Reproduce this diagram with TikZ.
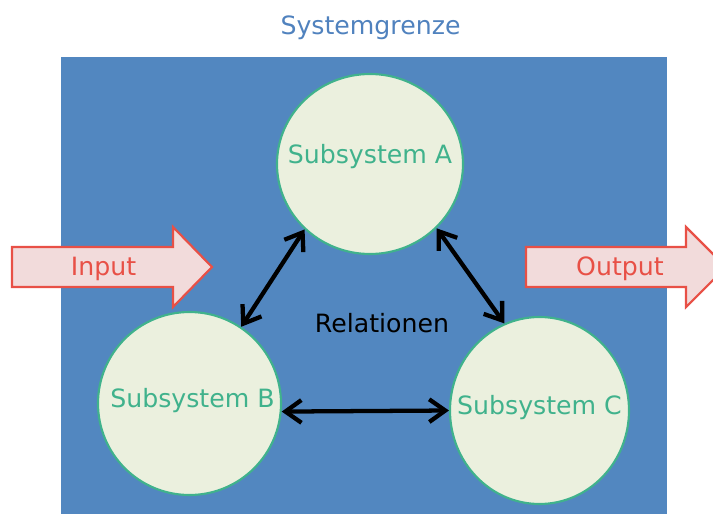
\documentclass[tikz,border=0pt]{standalone}
\usepackage{fontspec}
\setmainfont{DejaVu Sans}
\usetikzlibrary{shapes.geometric,arrows.meta}

\definecolor{sysblue}{RGB}{82,135,192}
\definecolor{titleblue}{RGB}{80,130,190}
\definecolor{subfill}{RGB}{235,240,222}
\definecolor{subgreen}{RGB}{64,178,140}
\definecolor{ioline}{RGB}{232,80,70}
\definecolor{iofill}{RGB}{242,219,219}

\tikzset{
  subsys/.style={ellipse, draw=subgreen, line width=1.6pt, fill=subfill, inner sep=0pt},
  txt/.style={anchor=base, inner sep=0pt, font=\fontsize{18.9}{22}\selectfont},
  subtxt/.style={txt, text=subgreen},
  iotxt/.style={txt, text=ioline},
  ioarrow/.style={draw=ioline, fill=iofill, line width=1.6pt, line join=miter},
  barb/.tip={Straight Barb[length=12pt, width=17pt]},
  relation/.style={line width=3.2pt, barb-barb},
}

\begin{document}
\begin{tikzpicture}[x=0.75pt, y=-0.75pt]
  \useasboundingbox (0,0) rectangle (713,514);
  \clip (0,0) rectangle (713,514);

  % system boundary
  \fill[sysblue] (61,57) rectangle (667,514);
  \node[txt, text=titleblue] (title) at (370.5,34) {Systemgrenze};

  % input and output block arrows
  \draw[ioarrow] (12,247) -- (173,247) -- (173,227) -- (212,267)
                 -- (173,307) -- (173,287) -- (12,287) -- cycle;
  \draw[ioarrow] (526,247) -- (686,247) -- (686,227) -- (726,267)
                 -- (686,307) -- (686,287) -- (526,287) -- cycle;
  \node[iotxt] (input) at (103.5,275) {Input};
  \node[iotxt] (output) at (620,275) {Output};

  % subsystems
  \node[subsys, minimum width=139.5pt, minimum height=135pt] (A) at (370,164) {};
  \node[subsys, minimum width=137.25pt, minimum height=137.25pt] (B) at (189.5,403.5) {};
  \node[subsys, minimum width=134.25pt, minimum height=140.25pt] (C) at (539.5,410.5) {};
  \node[subtxt] (labA) at (370,163) {Subsystem A};
  \node[subtxt] (labB) at (192.5,407) {Subsystem B};
  \node[subtxt] (labC) at (539.5,414) {Subsystem C};

  % relations between subsystems
  \draw[relation] (A.225) -- (B.56);
  \draw[relation] (A.316) -- (C.112);
  \draw[relation] (B.355) -- (C.180);
  \node[txt] (rel) at (382,332) {Relationen};
\end{tikzpicture}
\end{document}
